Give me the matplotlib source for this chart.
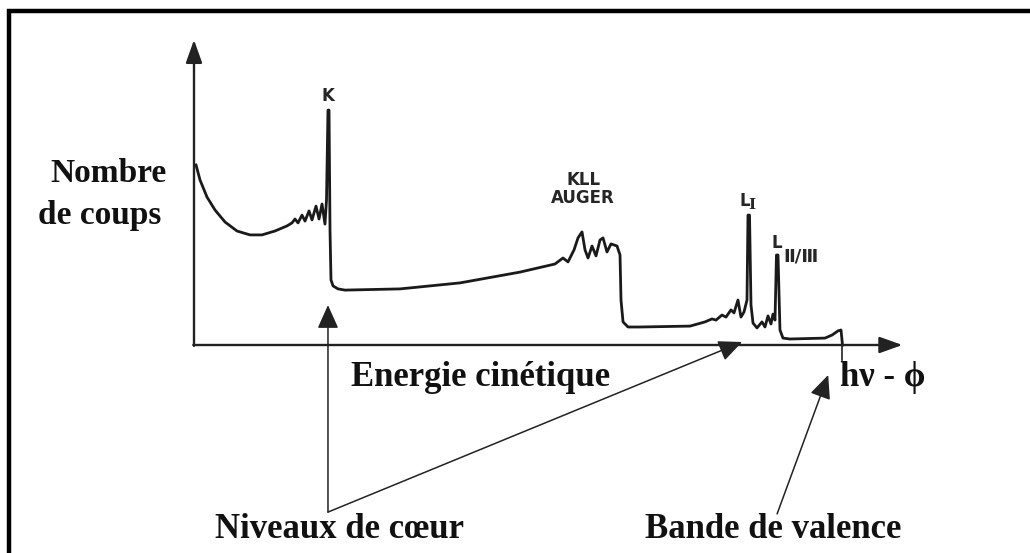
import matplotlib
matplotlib.use('Agg')
import matplotlib.pyplot as plt
from matplotlib.lines import Line2D

# schematic XPS spectrum: kinetic energy (arb. units) vs counts (arb. units)
energy = [0.29, 0.86, 1.86, 3.0, 4.43, 6.14, 8.0, 9.71, 11.57, 13.29,
          14.0, 14.43, 14.86, 15.43, 15.86, 16.43, 16.86, 17.43, 17.86, 18.29,
          18.71, 18.93, 19.14, 19.29, 19.43, 19.57, 19.86, 20.57, 21.57, 29.43,
          38.0, 46.57, 51.57, 52.71, 53.43, 54.29, 54.86, 55.43, 55.86, 56.29,
          56.86, 57.43, 58.0, 58.43, 59.0, 59.57, 60.43, 60.86, 61.0, 61.29,
          62.0, 63.71, 70.86, 73.0, 74.0, 74.57, 75.43, 76.0, 76.71, 77.14,
          77.71, 78.14, 78.57, 79.0, 79.14, 79.36, 79.57, 79.86, 80.43, 81.14,
          81.57, 82.0, 82.43, 82.71, 83.0, 83.21, 83.43, 83.71, 84.14, 85.14,
          90.14, 91.14, 92.0, 92.43, 92.57, 92.64]
counts = [60.0, 55.0, 49.3, 45.0, 41.0, 38.0, 36.7, 36.7, 38.0, 39.7,
          40.7, 42.0, 40.7, 43.3, 41.3, 44.7, 41.7, 46.3, 42.0, 47.0,
          40.3, 48.3, 78.3, 78.3, 38.3, 21.7, 19.7, 18.7, 18.3, 18.7,
          20.7, 24.3, 27.0, 29.0, 27.7, 31.7, 35.7, 37.7, 31.7, 29.0,
          33.0, 29.7, 35.0, 35.7, 31.0, 33.7, 33.0, 30.0, 15.0, 7.7,
          6.0, 6.0, 6.3, 7.7, 8.7, 8.3, 10.0, 9.3, 11.7, 10.7,
          15.0, 9.3, 11.0, 15.0, 43.3, 43.3, 13.3, 7.3, 5.7, 7.7,
          6.0, 9.7, 7.0, 10.3, 8.3, 30.0, 30.0, 5.0, 2.3, 2.0,
          2.3, 3.3, 4.7, 5.0, 1.7, 0.0]

# peak labels (energy, counts just above each peak)
peak_labels = ["K", "KLL\nAUGER", "L", "L"]
peak_pos = [(19.2, 80.0), (55.6, 46.0), (78.7, 45.0), (83.3, 31.0)]
peak_subs = ["", "", "I", "Ⅱ/Ⅲ"]

E_MAX = 101.2      # end of energy axis
C_MAX = 101.7      # end of counts axis
E_EDGE = 92.64     # hv - phi

fig = plt.figure(figsize=(10.3, 5.53), dpi=100)
ax = fig.add_axes([0, 0, 1, 1])
ax.set_xlim(-194 / 7, (1030 - 194) / 7)
ax.set_ylim(-(553 - 345) / 3, 345 / 3)
ax.axis('off')

# frame (top and left only)
fig.add_artist(Line2D([0.0068, 1], [0.9802, 0.9802], color='black', lw=3.2,
                      transform=fig.transFigure, solid_capstyle='butt'))
fig.add_artist(Line2D([0.0087, 0.0087], [0, 0.984], color='black', lw=3.2,
                      transform=fig.transFigure, solid_capstyle='butt'))

# axes with arrows
arr = dict(arrowstyle='-|>,head_length=1.4,head_width=0.5', color='#222222',
           lw=1.7, shrinkA=0, shrinkB=0)
ax.annotate('', xy=(E_MAX, 0), xytext=(-0.1, 0), arrowprops=arr)
ax.annotate('', xy=(0, C_MAX), xytext=(0, -0.3), arrowprops=arr)
ax.plot([E_EDGE, E_EDGE], [0, -5], color='#222222', lw=1.2)

# spectrum
ax.plot(energy, counts, color='#1a1a1a', lw=2.0, solid_joinstyle='round')

sans = dict(fontsize=12, color='#262626', weight='bold')
for lab, sub, (x, y) in zip(peak_labels, peak_subs, peak_pos):
    ax.text(x, y, lab, ha='center', va='bottom', linespacing=1.0, **sans)
ax.text(79.7, 44.2, peak_subs[2], ha='center', va='bottom', fontsize=11,
        color='#262626', weight='bold', family='DejaVu Serif')
ax.text(84.2, 26.5, peak_subs[3], ha='left', va='bottom', fontsize=13,
        color='#262626', weight='bold')

# pointer arrows
parr = dict(arrowstyle='-|>,head_length=1.45,head_width=0.65', color='#222222',
            lw=1.1, shrinkA=0, shrinkB=0)
ax.annotate('', xy=(19.14, 13.3), xytext=(19.14, -55.7), arrowprops=parr)
ax.annotate('', xy=(78.3, 1.0), xytext=(19.14, -55.7), arrowprops=parr)
ax.annotate('', xy=(90.6, -10), xytext=(83.3, -56.3), arrowprops=parr)

serif = dict(family='Liberation Serif', weight='bold', color='#111111')
fig.text(50 / 1030, 1 - 182 / 553, 'Nombre', fontsize=24, va='baseline', **serif)
fig.text(38 / 1030, 1 - 224 / 553, 'de coups', fontsize=24, va='baseline', **serif)
fig.text(351 / 1030, 1 - 386 / 553, 'Energie cinétique', fontsize=25, va='baseline', **serif)
fig.text(840 / 1030, 1 - 386 / 553, 'hν - ϕ', fontsize=25, va='baseline', **serif)
fig.text(215 / 1030, 1 - 538 / 553, 'Niveaux de cœur', fontsize=25, va='baseline', **serif)
fig.text(645 / 1030, 1 - 538 / 553, 'Bande de valence', fontsize=25, va='baseline', **serif)

fig.savefig('out.png', dpi=100, facecolor='white')
